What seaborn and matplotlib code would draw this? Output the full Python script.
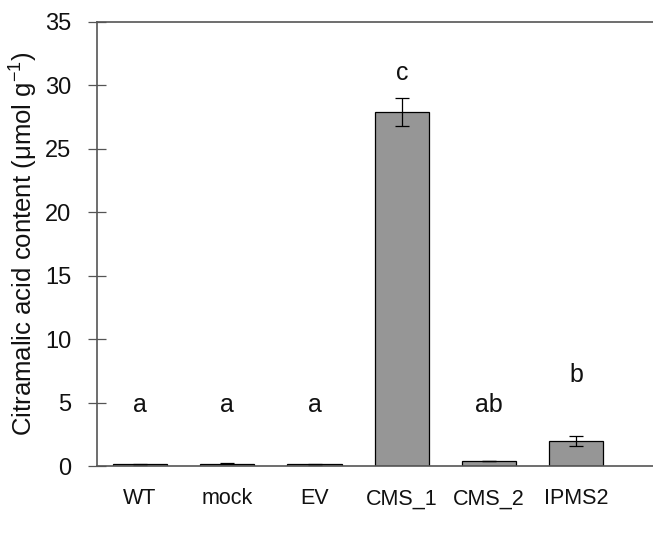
import matplotlib
matplotlib.use("Agg")
import matplotlib.pyplot as plt
import numpy as np
import pandas as pd
import seaborn as sns

# ── Data ────────────────────────────────────────────────────────────────────
lines = ["WT", "mock", "EV", "CMS_1", "CMS_2", "IPMS2"]
content = [0.15, 0.2, 0.15, 27.9, 0.4, 2.0]
sem = [0.03, 0.03, 0.03, 1.1, 0.03, 0.4]
letters = ["a", "a", "a", "c", "ab", "b"]
letter_y = [4.8, 4.8, 4.8, 31.0, 4.8, 7.2]

sns.set_style("white")
plt.rcParams["font.family"] = ["Liberation Sans", "DejaVu Sans"]
plt.rcParams["mathtext.default"] = "regular"

df = pd.DataFrame({"line": lines, "content": content})

fig = plt.figure(figsize=(6.53, 5.34), dpi=100)
ax = fig.add_axes([0.1486, 0.127, 0.8514, 0.832])

sns.barplot(data=df, x="line", y="content", order=lines, color="#969696",
            edgecolor="black", linewidth=0.9, width=0.62, saturation=1,
            errorbar=None, ax=ax)

x = np.arange(len(lines))
ax.errorbar(x, content, yerr=sem, fmt="none", ecolor="black",
            elinewidth=0.9, capsize=5, capthick=0.9)

for xi, lab, ly in zip(x, letters, letter_y):
    ax.text(xi, ly, lab, ha="center", va="center", fontsize=18,
            color="#111111")

ax.set_xlim(-0.493, 5.88)
ax.set_ylim(0, 35)
ax.set_yticks(np.arange(0, 36, 5))
ax.set_xlabel("")
ax.set_ylabel("Citramalic acid content (μmol g$^{-1}$)", fontsize=18.5,
              color="#111111", labelpad=4)
ax.tick_params(axis="y", direction="inout", length=13, width=0.9,
               labelsize=17, left=True, pad=12, labelcolor="#111111",
               color="#555555")
ax.tick_params(axis="x", length=0, labelsize=15.5, pad=16,
               labelcolor="#111111")

ax.spines["right"].set_visible(False)
for side in ["left", "bottom", "top"]:
    ax.spines[side].set_color("#555555")
    ax.spines[side].set_linewidth(1.2)

fig.savefig("out.png", dpi=100)
